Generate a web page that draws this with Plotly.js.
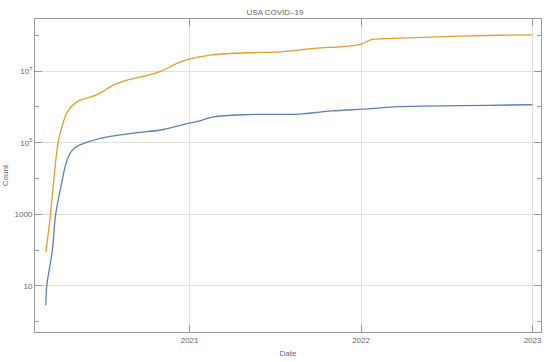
<!DOCTYPE html>
<html>
<head>
<meta charset="utf-8">
<script src="https://cdn.plot.ly/plotly-3.0.1.min.js"></script>
<style>
  html, body { margin: 0; padding: 0; background: #fff; }
  #plot { width: 550px; height: 362px; }
</style>
</head>
<body>
<div id="plot"></div>
<script>
// cases (orange)
var caseDates = ['2020-03-01', '2020-03-11', '2020-03-18', '2020-03-27', '2020-04-03', '2020-04-16',
    '2020-05-06', '2020-06-18', '2020-07-24', '2020-08-21', '2020-09-26', '2020-10-30', '2020-12-05',
    '2021-01-02', '2021-02-14', '2021-05-03', '2021-07-15', '2021-09-24', '2021-12-06', '2022-01-01',
    '2022-01-21', '2022-01-31', '2022-03-11', '2022-08-01', '2022-12-26', '2023-01-01'];
var caseCounts = [85, 1000, 9000, 1.0e5, 2.4e5, 7.3e5,
    1.38e6, 2.2e6, 4.1e6, 5.6e6, 7.2e6, 9.6e6, 1.64e7,
    2.2e7, 2.8e7, 3.25e7, 3.46e7, 4.3e7, 5.0e7, 5.7e7,
    7.4e7, 7.8e7, 8.2e7, 9.5e7, 1.03e8, 1.03e8];

// deaths (blue)
var deathDates = ['2020-03-01', '2020-03-03', '2020-03-15', '2020-03-22', '2020-04-05', '2020-04-12',
    '2020-04-20', '2020-04-27', '2020-05-14', '2020-06-28', '2020-09-07', '2020-11-03', '2020-12-12',
    '2021-01-28', '2021-02-21', '2021-05-03', '2021-08-20', '2021-10-30', '2022-01-14', '2022-03-11',
    '2022-08-01', '2022-12-26', '2023-01-01'];
var deathCounts = [2.9, 10, 100, 1000, 9000, 2.4e4,
    4.6e4, 6.3e4, 8.8e4, 1.35e5, 1.87e5, 2.3e5, 3.05e5,
    4.3e5, 5.3e5, 6.1e5, 6.3e5, 7.7e5, 8.8e5, 1.0e6,
    1.08e6, 1.15e6, 1.15e6];

var yTickVals = [10, 1000, 1e5, 1e7];
var yTickText = ['10', '1000', '10<sup>5</sup>', '10<sup>7</sup>'];
var yMinorVals = [1, 100, 1e4, 1e6, 1e8];

var traces = [
    {
        x: deathDates, y: deathCounts, type: 'scatter', mode: 'lines',
        line: { color: '#5E81B5', width: 1.3, shape: 'spline', smoothing: 1 },
        name: 'Deaths'
    },
    {
        x: caseDates, y: caseCounts, type: 'scatter', mode: 'lines',
        line: { color: '#E39F2A', width: 1.3, shape: 'spline', smoothing: 1 },
        name: 'Cases'
    }
];

var axisFont = { family: 'Liberation Sans, Arial, sans-serif', size: 8, color: '#666' };

var layout = {
    width: 550, height: 362,
    margin: { l: 35, r: 9, t: 19, b: 30 },
    paper_bgcolor: '#fff', plot_bgcolor: '#fff',
    showlegend: false,
    title: {
        text: 'USA COVID–19',
        font: { family: 'Liberation Sans, Arial, sans-serif', size: 8, color: '#666' },
        x: 0.5, xanchor: 'center', y: 0.967, yanchor: 'middle'
    },
    xaxis: {
        type: 'date',
        range: ['2020-02-07', '2023-01-19'],
        tickmode: 'array',
        tickvals: ['2021-01-01', '2022-01-01', '2023-01-01'],
        ticktext: ['2021', '2022', '2023'],
        ticks: 'inside', ticklen: 7, tickcolor: '#999', tickwidth: 1,
        showline: true, linecolor: '#999', linewidth: 1, mirror: 'ticks',
        showgrid: true, gridcolor: '#e0e0e0', gridwidth: 1,
        zeroline: false,
        tickfont: axisFont,
        title: { text: 'Date', font: axisFont, standoff: 6 }
    },
    yaxis: {
        type: 'log',
        range: [-0.287, 8.455],
        tickmode: 'array',
        tickvals: yTickVals,
        ticktext: yTickText,
        ticks: 'inside', ticklen: 7, tickcolor: '#999', tickwidth: 1,
        showline: true, linecolor: '#999', linewidth: 1, mirror: 'ticks',
        showgrid: true, gridcolor: '#e0e0e0', gridwidth: 1,
        zeroline: false,
        tickfont: axisFont,
        minor: { tickmode: 'array', tickvals: yMinorVals, ticks: 'inside', ticklen: 4, tickcolor: '#999', showgrid: false },
        title: { text: 'Count', font: axisFont, standoff: 4 }
    }
};

Plotly.newPlot('plot', traces, layout, { displayModeBar: false, staticPlot: true });
</script>
</body>
</html>
